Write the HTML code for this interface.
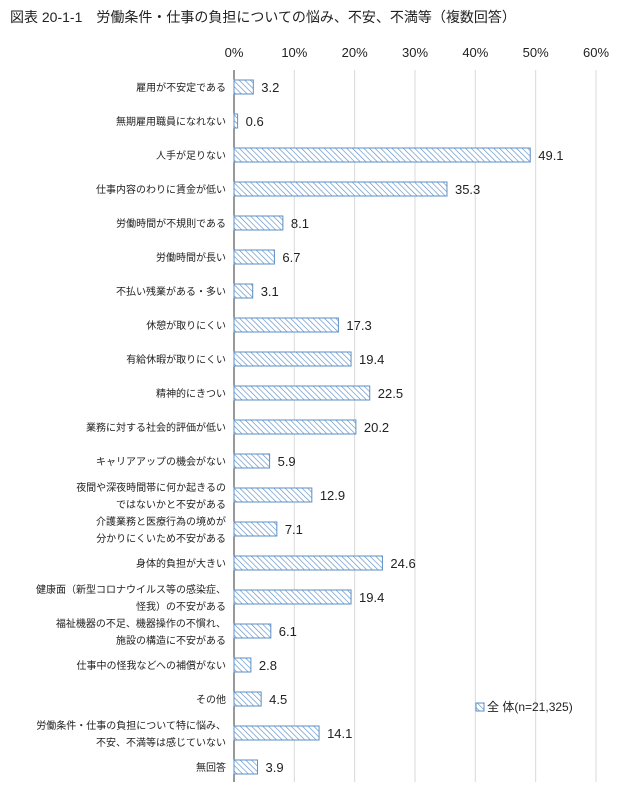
<!DOCTYPE html>
<html><head><meta charset="utf-8">
<style>
body{margin:0;background:#fff;}
svg text{font-family:"Liberation Sans","Noto Sans CJK JP",sans-serif;fill:#222;}
</style></head>
<body>
<svg id="chart" width="640" height="804" xmlns="http://www.w3.org/2000/svg">
<defs>
<pattern id="hatch" patternUnits="userSpaceOnUse" width="4" height="4" patternTransform="rotate(-45)">
<rect width="4" height="4" fill="#fff"/>
<line x1="0" y1="0" x2="0" y2="4" stroke="#5b8fc7" stroke-width="1.3"/>
</pattern>
</defs>
<text x="10" y="22" font-size="14">図表 20-1-1　労働条件・仕事の負担についての悩み、不安、不満等（複数回答）</text>
<g id="grid"></g><g id="bars"></g><g id="labels"></g>
<g>
<rect x="476" y="703" width="8" height="8" fill="url(#hatch)" stroke="#5b8fc7"/>
<text x="487" y="711" font-size="12">全 体(n=21,325)</text>
</g>
</svg>
<script>
const categories=[["雇用が不安定である"],["無期雇用職員になれない"],["人手が足りない"],["仕事内容のわりに賃金が低い"],["労働時間が不規則である"],["労働時間が長い"],["不払い残業がある・多い"],["休憩が取りにくい"],["有給休暇が取りにくい"],["精神的にきつい"],["業務に対する社会的評価が低い"],["キャリアアップの機会がない"],["夜間や深夜時間帯に何か起きるの","ではないかと不安がある"],["介護業務と医療行為の境めが","分かりにくいため不安がある"],["身体的負担が大きい"],["健康面（新型コロナウイルス等の感染症、","怪我）の不安がある"],["福祉機器の不足、機器操作の不慣れ、","施設の構造に不安がある"],["仕事中の怪我などへの補償がない"],["その他"],["労働条件・仕事の負担について特に悩み、","不安、不満等は感じていない"],["無回答"]];
const values=[3.2,0.6,49.1,35.3,8.1,6.7,3.1,17.3,19.4,22.5,20.2,5.9,12.9,7.1,24.6,19.4,6.1,2.8,4.5,14.1,3.9];
const ticks=[0,10,20,30,40,50,60];
const NS="http://www.w3.org/2000/svg";
const x0=234,x1=596,yTop=70,yBot=782,max=60;
const xs=v=>x0+(v/max)*(x1-x0);
const step=34,first=87;
const ys=i=>first+i*step;
function mk(tag,attrs,parent,txt){const e=document.createElementNS(NS,tag);for(const k in attrs)e.setAttribute(k,attrs[k]);if(txt!==undefined)e.textContent=txt;parent.appendChild(e);return e;}
const grid=document.getElementById('grid'),bars=document.getElementById('bars'),labels=document.getElementById('labels');
ticks.forEach(t=>{
 const l=mk('line',{x1:xs(t),x2:xs(t),y1:yTop,y2:yBot,stroke:t===0?'#333':'#d9d9d9','stroke-width':1},grid);
 
 
 const tx=mk('text',{x:xs(t),y:57,'font-size':13,'text-anchor':'middle'},grid,t+'%');
 
 
});
values.forEach((v,i)=>{
 const y=ys(i);
 const r=mk('rect',{x:x0,y:y-7,width:xs(v)-x0,height:14,fill:'url(#hatch)',stroke:'#5b8fc7','stroke-width':1},bars);
 
 
 const vt=mk('text',{x:xs(v)+8,y:y+5,'font-size':13},bars,v.toFixed(1));
 
 
 const c=categories[i];
 c.forEach((s,j)=>{
  const yy=c.length===1?y+4:y-4+j*17;
  const ct=mk('text',{x:226,y:yy,'font-size':10,'text-anchor':'end'},labels,s);
  
  
 });
});
</script>
</body></html>
